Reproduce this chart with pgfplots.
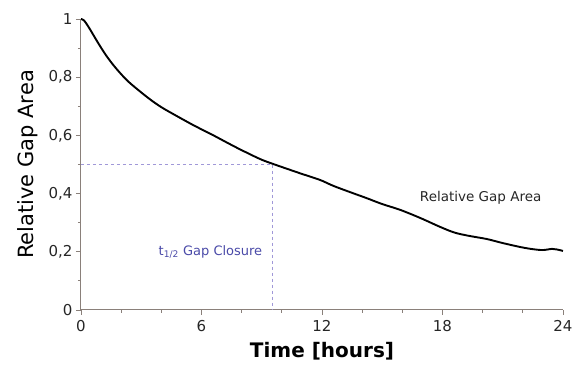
\documentclass[border=0pt]{standalone}
\usepackage{pgfplots}
\pgfplotsset{compat=1.18}
\usepackage{fontspec}
\setmainfont{DejaVu Sans}
\definecolor{axgray}{HTML}{8A807A}
\definecolor{dashc}{HTML}{A098D8}
\definecolor{txtblue}{HTML}{4A4AA8}
\begin{document}
\begin{tikzpicture}
\path[use as bounding box] (-81pt,-62pt) rectangle (506pt,310pt);
\begin{axis}[
  scale only axis,
  width=482pt, height=291pt,
  xmin=0, xmax=24, ymin=0, ymax=1,
  axis x line*=bottom, axis y line*=left,
  axis line style={axgray, line width=1pt, -},
  xtick={0,6,12,18,24},
  ytick={0,0.2,0.4,0.6,0.8,1},
  yticklabels={0,{0,2},{0,4},{0,6},{0,8},1},
  minor x tick num=2,
  minor y tick num=1,
  tick align=outside,
  tick style={axgray, line width=0.8pt},
  major tick length=5pt, minor tick length=3pt,
  /pgf/number format/assume math mode=true,
  ticklabel style={font=\fontsize{15}{18}\selectfont, text=black!85},
  xticklabel style={yshift=-2pt},
  xlabel={\textbf{Time [hours]}},
  ylabel={Relative Gap Area},
  xlabel style={font=\fontsize{20}{24}\selectfont, yshift=-4pt},
  ylabel style={font=\fontsize{21}{25}\selectfont, yshift=4pt},
  clip=false,
]
\addplot[dashc, dashed, line width=0.8pt] coordinates {(0,0.5) (9.55,0.5) (9.55,0)};
\addplot[black, line width=1.9pt, smooth, tension=0.5] coordinates {
(0,1.0) (0.15,0.995) (0.4,0.97) (0.85,0.918) (1.25,0.875) (1.69,0.835) (2.34,0.786)
(3.34,0.729) (4.0,0.697) (4.68,0.67) (5.6,0.635) (6.57,0.601) (7.25,0.576) (7.92,0.552)
(8.91,0.519) (9.56,0.502) (10.9,0.47) (11.9,0.447) (12.55,0.427) (13.4,0.405)
(14.2,0.385) (15.0,0.364) (15.9,0.344) (16.9,0.316) (17.9,0.285) (18.6,0.266)
(19.3,0.255) (20.2,0.244) (21.0,0.23) (21.9,0.216) (22.5,0.209) (23.0,0.206)
(23.45,0.21) (23.7,0.208) (24,0.203)
};
\node[font=\fontsize{13}{15}\selectfont, text=txtblue, anchor=east] at (axis cs:9.2,0.2) {t\textsubscript{1/2} Gap Closure};
\node[font=\fontsize{13.5}{16}\selectfont, text=black!85] at (axis cs:19.9,0.385) {Relative Gap Area};
\end{axis}
\end{tikzpicture}
\end{document}
